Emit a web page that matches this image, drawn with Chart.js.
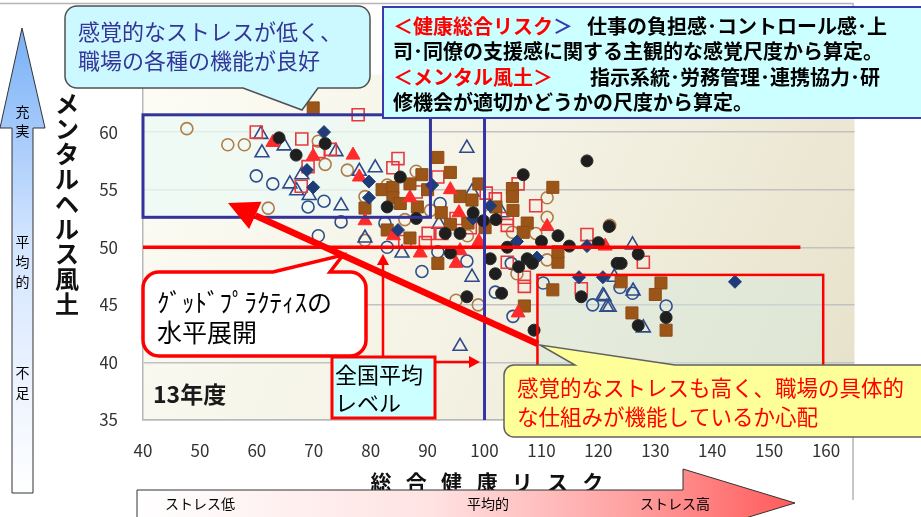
<!DOCTYPE html>
<html lang="ja">
<head>
<meta charset="utf-8">
<title>総合健康リスクとメンタルヘルス風土</title>
<script src="https://cdn.jsdelivr.net/npm/chart.js@4.4.1/dist/chart.umd.min.js"></script>
<style>
  html, body { margin: 0; padding: 0; background: #fff; }
  #wrap { width: 921px; height: 517px; }
</style>
</head>
<body>
<div id="wrap"><canvas id="riskChart" width="921" height="517"></canvas></div>
<script>
// axis ticks
const xTickValues = [40, 50, 60, 70, 80, 90, 100, 110, 120, 130, 140, 150, 160];
const yTickValues = [35, 40, 45, 50, 55, 60];

// national averages (reference lines)
const avgRisk = 100;
const avgClimate = 50;

// [総合健康リスク, メンタルヘルス風土] per workplace, grouped by marker
const blackDots = [[63.9,59.5],[66.9,58],[72,59],[85.2,56.1],[82.9,53.5],[106.8,56.3],[118,57.5],[99.8,52.3],[102,52.4],[121.9,51.8],[94,49.5],[93.1,51.2],[95.7,51.2],[96.9,45.7],[101,49],[101.9,47.7],[106,48.3],[107.5,49],[108.4,48.6],[112.9,51],[114.9,50.1],[120,50.4],[123.3,48.6],[117,45.7],[103,46],[108.7,42.8],[127,49.4],[124,48.6],[131.9,43.9],[127,43.2],[88,52.5],[98,53],[104,50],[110,50.5]];
const navyDiamonds = [[71.8,60],[68.8,56.7],[79.7,55.7],[69.9,55.2],[79.7,54.3],[90.8,55.4],[101,53.6],[84.8,51.5],[105.7,50.5],[109.2,49.1],[118,50.1],[116.6,47.4],[120.8,47.4],[144,47],[98,52.5]];
const redTriangles = [[62.8,59.1],[69.9,57.9],[76.9,58],[78,56.1],[79,52.3],[94,55],[86.9,54.3],[95.5,53],[111,51.8],[88.7,49.5],[95,48.6],[95.7,49.7],[121.2,50.1],[105.9,44.3],[99,50.5],[84,51]];
const brownSquares = [[69.9,62.1],[79,53.4],[91.8,57.8],[94,56.5],[89,56.3],[104.9,55.1],[112,55.2],[104.9,54.4],[95.7,54.4],[97.8,54.1],[86.9,55.5],[82,55],[83.9,55.2],[105,53.2],[92.4,53],[88.2,53.5],[83.9,54.3],[85.2,53.8],[82.9,51.5],[86.9,50.8],[97.1,52.1],[100.1,51.7],[107.5,52.1],[106.8,51.3],[91.8,48.6],[112.9,48.7],[112,46.3],[107,44.9],[112.9,49.6],[124,47],[131,46.9],[130,45.9],[125.9,44.3],[131.9,42.8],[90,55],[94,52],[99,55.5],[102,53.5]];
const redSquares = [[59.9,60],[67.9,59.4],[70.9,58.3],[72.9,58.5],[69,57],[67.8,55.3],[77.8,61.5],[84.8,57.7],[83.9,56.9],[91.8,56.1],[105.9,55.5],[100.3,54.7],[101.9,54.2],[109,53.6],[104,52.5],[90.1,51.2],[92.5,51.2],[89.6,50.4],[97.5,51.7],[104,51.9],[104,48.7],[107,47.4],[107,46.6],[118,51.1],[117,46.4],[127.9,48.7],[86,50.5],[95,52.5],[88,54.8]];
const navyTriangles = [[60.7,59.8],[60.9,58.2],[64.8,58.8],[73.9,58.3],[67.9,56.3],[78,56.6],[80.8,56.9],[65.8,55.5],[67,54.9],[69.2,54.5],[74.8,53.6],[96.9,58.6],[97.8,54.8],[85.5,49.5],[97.8,47.4],[95.7,41.4],[120.8,45.8],[121.5,44.8],[126,50.2],[122.8,47.4],[126.1,46.2],[121,45.7],[121.9,44.8],[127.9,43],[79,50.8],[92,52],[103,53]];
const navyCircles = [[59.9,56.2],[62.8,55.5],[69,53.5],[71.8,54],[74.8,52.2],[70.8,51],[82.5,52.1],[82.9,50],[89,47.9],[96.9,48.8],[91.8,49.6],[92.2,53.8],[104.7,48.6],[101.9,46.1],[105,44],[110.3,46.9],[119,45],[123.8,46.5],[126,46],[131.9,44.9]];
const tanCircles = [[47.7,60.3],[54.9,58.9],[57.8,58.9],[70.8,59.2],[72,57.2],[75.9,56.7],[62,53.4],[79,54.4],[88,56.6],[82.9,55.4],[111,54.3],[111,52.6],[104.9,51.3],[105.7,47.7],[111,48.9],[95,45.4],[98.9,45],[122,51.9],[86,52.4],[90.5,53.2],[79,50.6],[97,51],[101,52.8],[109,51.2]];

// highlighted zones (data units)
const goodZone = { x0: 40, x1: 90.5, y0: 52.6, y1: 61.5 };
const concernZone = { x0: 109.3, x1: 159.5, y0: 34, y1: 47.6 };

const JP = '"Noto Sans CJK JP", "Noto Sans", sans-serif';

const toPoints = arr => arr.map(([x, y]) => ({ x, y }));

function series(data, style, radius, fill, stroke, width) {
  return {
    data: toPoints(data),
    pointStyle: style,
    pointRadius: radius,
    pointHoverRadius: radius,
    backgroundColor: fill,
    borderColor: stroke,
    borderWidth: width
  };
}

function boxPath(ctx, x, y, w, h, r, side, b1, b2, tx, ty) {
  ctx.beginPath();
  ctx.moveTo(x + r, y);
  if (side === 'top') { ctx.lineTo(b1, y); ctx.lineTo(tx, ty); ctx.lineTo(b2, y); }
  ctx.lineTo(x + w - r, y);
  ctx.arcTo(x + w, y, x + w, y + r, r);
  ctx.lineTo(x + w, y + h - r);
  ctx.arcTo(x + w, y + h, x + w - r, y + h, r);
  if (side === 'bottom') { ctx.lineTo(b2, y + h); ctx.lineTo(tx, ty); ctx.lineTo(b1, y + h); }
  ctx.lineTo(x + r, y + h);
  ctx.arcTo(x, y + h, x, y + h - r, r);
  ctx.lineTo(x, y + r);
  ctx.arcTo(x, y, x + r, y, r);
  ctx.closePath();
}

function arrow(ctx, x1, y1, x2, y2, width, headLen, headHalf, color) {
  const a = Math.atan2(y2 - y1, x2 - x1);
  const c = Math.cos(a), s = Math.sin(a);
  const bx = x2 - headLen * c, by = y2 - headLen * s;
  ctx.strokeStyle = color;
  ctx.fillStyle = color;
  ctx.lineWidth = width;
  ctx.lineCap = 'butt';
  ctx.beginPath();
  ctx.moveTo(x1, y1);
  ctx.lineTo(bx, by);
  ctx.stroke();
  ctx.beginPath();
  ctx.moveTo(x2, y2);
  ctx.lineTo(bx - headHalf * s, by + headHalf * c);
  ctx.lineTo(bx + headHalf * s, by - headHalf * c);
  ctx.closePath();
  ctx.fill();
}

function runs(ctx, parts, x, y) {
  parts.forEach(([text, color]) => {
    ctx.fillStyle = color;
    ctx.fillText(text, x, y);
    x += ctx.measureText(text).width;
  });
}

function zoneRect(chart, z) {
  const xs = chart.scales.x, ys = chart.scales.y;
  const l = xs.getPixelForValue(z.x0), r = xs.getPixelForValue(z.x1);
  const t = ys.getPixelForValue(z.y1), b = ys.getPixelForValue(z.y0);
  return [l, t, r - l, b - t];
}

const decorations = {
  id: 'decorations',
  beforeDraw(chart) {
    const { ctx, chartArea: a } = chart;
    ctx.save();
    ctx.fillStyle = '#ffffff';
    ctx.fillRect(0, 0, chart.width, chart.height);
    // outer frame
    ctx.strokeStyle = '#b4b4b4';
    ctx.lineWidth = 1.5;
    ctx.beginPath();
    ctx.moveTo(0, 3.5);
    ctx.lineTo(853, 3.5);
    ctx.lineTo(853, 500);
    ctx.stroke();
    // plot background
    const g = ctx.createLinearGradient(a.left, a.top, a.right, a.bottom);
    g.addColorStop(0, '#fcfcf5');
    g.addColorStop(0.5, '#f4f2e4');
    g.addColorStop(1, '#e6e1c9');
    ctx.fillStyle = g;
    ctx.fillRect(a.left, a.top, a.right - a.left, a.bottom - a.top);
    ctx.restore();
  },
  beforeDatasetsDraw(chart) {
    const { ctx } = chart;
    ctx.save();
    ctx.fillStyle = 'rgba(236, 250, 244, 0.75)';
    ctx.fillRect(...zoneRect(chart, goodZone));
    ctx.fillStyle = 'rgba(214, 232, 222, 0.45)';
    ctx.fillRect(...zoneRect(chart, concernZone));
    ctx.restore();
  },
  afterDatasetsDraw(chart) {
    const { ctx, chartArea: a } = chart;
    const xs = chart.scales.x, ys = chart.scales.y;
    ctx.save();
    // national average lines
    const yAvg = ys.getPixelForValue(avgClimate);
    ctx.strokeStyle = '#ff0000';
    ctx.lineWidth = 3.5;
    ctx.beginPath();
    ctx.moveTo(a.left, yAvg);
    ctx.lineTo(xs.getPixelForValue(155.5), yAvg);
    ctx.stroke();
    const xAvg = xs.getPixelForValue(avgRisk);
    ctx.strokeStyle = '#3434a6';
    ctx.lineWidth = 3;
    ctx.beginPath();
    ctx.moveTo(xAvg, 116);
    ctx.lineTo(xAvg, a.bottom);
    ctx.stroke();
    // zone borders
    ctx.strokeStyle = '#333399';
    ctx.lineWidth = 3;
    ctx.strokeRect(...zoneRect(chart, goodZone));
    ctx.strokeStyle = '#ff0000';
    ctx.lineWidth = 2.5;
    ctx.strokeRect(...zoneRect(chart, concernZone));
    ctx.restore();
  },
  afterDraw(chart) {
    const { ctx } = chart;
    ctx.save();
    ctx.textBaseline = 'middle';

    // thick trend arrow
    arrow(ctx, 538, 344, 228, 203, 6.5, 30, 15, '#ff0000');

    // national average label with arrows
    arrow(ctx, 383, 357, 383, 254, 2.5, 11, 6, '#ff0000');
    arrow(ctx, 435, 362, 480, 362, 2.5, 11, 6, '#ff0000');
    ctx.fillStyle = '#ccffff';
    ctx.fillRect(332, 357, 103, 61);
    ctx.strokeStyle = '#ff0000';
    ctx.lineWidth = 3;
    ctx.strokeRect(332, 357, 103, 61);
    ctx.fillStyle = '#000';
    ctx.textAlign = 'left';
    ctx.font = '22px ' + JP;
    ctx.fillText('全国平均', 335, 375);
    ctx.fillText('レベル', 335, 403);

    // fiscal year tag
    ctx.font = 'bold 23px ' + JP;
    ctx.fillStyle = '#1a1a1a';
    ctx.fillText('13年度', 153, 394);

    // good practice callout
    boxPath(ctx, 143, 272, 223, 84, 16, 'top', 273, 330, 343, 255);
    ctx.fillStyle = '#ffffff';
    ctx.fill();
    ctx.strokeStyle = '#ff0000';
    ctx.lineWidth = 3.5;
    ctx.stroke();
    ctx.fillStyle = '#000';
    ctx.font = '25px ' + JP;
    ctx.fillText('ｸﾞｯﾄﾞﾌﾟﾗｸﾃｨｽの', 157, 302);
    ctx.fillText('水平展開', 157, 332);

    // low-stress callout
    boxPath(ctx, 65, 6, 305, 82, 12, 'bottom', 243, 318, 302, 110);
    ctx.fillStyle = '#ccf8ff';
    ctx.fill();
    ctx.strokeStyle = '#505050';
    ctx.lineWidth = 1.5;
    ctx.stroke();
    ctx.fillStyle = '#353598';
    ctx.font = '22px ' + JP;
    ctx.fillText('感覚的なストレスが低く、', 78, 32);
    ctx.fillText('職場の各種の機能が良好', 78, 61);

    // high-stress callout
    boxPath(ctx, 504, 365, 430, 72, 10, 'top', 575, 675, 540, 345);
    ctx.fillStyle = '#ffff99';
    ctx.fill();
    ctx.strokeStyle = '#606060';
    ctx.lineWidth = 1.5;
    ctx.stroke();
    ctx.fillStyle = '#ff0000';
    ctx.font = '21.5px ' + JP;
    ctx.fillText('感覚的なストレスも高く、職場の具体的', 517, 388);
    ctx.fillText('な仕組みが機能しているか心配', 517, 417);

    // definitions box
    ctx.fillStyle = '#ccffff';
    ctx.fillRect(383, 7, 560, 111);
    ctx.strokeStyle = '#3a3ab0';
    ctx.lineWidth = 2;
    ctx.strokeRect(383, 7, 560, 111);
    ctx.font = 'bold 20px ' + JP;
    runs(ctx, [['＜健康総合リスク', '#ff0000'], ['＞', '#3a3ab0']], 393, 26);
    runs(ctx, [['仕事の負担感･コントロール感･上', '#000']], 587, 26);
    runs(ctx, [['司･同僚の支援感に関する主観的な感覚尺度から算定。', '#000']], 393, 51);
    runs(ctx, [['＜メンタル風土＞', '#ff0000']], 393, 77);
    runs(ctx, [['指示系統･労務管理･連携協力･研', '#000']], 590, 77);
    runs(ctx, [['修機会が適切かどうかの尺度から算定。', '#000']], 393, 102);

    // vertical scale arrow (left)
    ctx.beginPath();
    ctx.moveTo(22, 28);
    ctx.lineTo(45, 128);
    ctx.lineTo(33, 128);
    ctx.lineTo(33, 493);
    ctx.lineTo(12, 493);
    ctx.lineTo(12, 128);
    ctx.lineTo(0, 128);
    ctx.closePath();
    const vg = ctx.createLinearGradient(0, 28, 0, 493);
    vg.addColorStop(0, '#78b0f6');
    vg.addColorStop(0.45, '#d2e4ff');
    vg.addColorStop(1, '#ffffff');
    ctx.fillStyle = vg;
    ctx.fill();
    ctx.strokeStyle = '#333';
    ctx.lineWidth = 1;
    ctx.stroke();
    ctx.fillStyle = '#000';
    ctx.font = '14px ' + JP;
    ctx.textAlign = 'center';
    [['充', 112], ['実', 131], ['平', 242], ['均', 262], ['的', 282], ['不', 373], ['足', 393]]
      .forEach(([ch, y]) => ctx.fillText(ch, 22.5, y));

    // y axis title, stacked
    ctx.font = 'bold 24px ' + JP;
    ctx.fillStyle = '#111';
    Array.from('メンタルヘルス風土').forEach((ch, i) => ctx.fillText(ch, 67, 104 + i * 25));

    // x axis title
    ctx.font = 'bold 21px ' + JP;
    Array.from('総合健康リスク').forEach((ch, i) => ctx.fillText(ch, 381 + i * 35.3, 482));

    // horizontal stress arrow (bottom)
    ctx.beginPath();
    ctx.moveTo(137, 490);
    ctx.lineTo(683, 490);
    ctx.lineTo(683, 469);
    ctx.lineTo(795, 503);
    ctx.lineTo(683, 537);
    ctx.lineTo(683, 520);
    ctx.lineTo(137, 520);
    ctx.closePath();
    const hg = ctx.createLinearGradient(137, 0, 795, 0);
    hg.addColorStop(0, '#ffffff');
    hg.addColorStop(0.45, '#ffe2e2');
    hg.addColorStop(0.75, '#ffa0a0');
    hg.addColorStop(1, '#ff5a5a');
    ctx.fillStyle = hg;
    ctx.fill();
    ctx.strokeStyle = '#333';
    ctx.lineWidth = 1;
    ctx.stroke();
    ctx.fillStyle = '#000';
    ctx.font = '14px ' + JP;
    ctx.textAlign = 'left';
    ctx.fillText('ストレス低', 165, 504);
    ctx.fillText('平均的', 467, 504);
    ctx.fillText('ストレス高', 640, 504);

    ctx.restore();
  }
};

new Chart(document.getElementById('riskChart'), {
  type: 'scatter',
  data: {
    datasets: [
      series(blackDots, 'circle', 6, '#1e1e1e', '#2a2a2a', 1),
      series(navyDiamonds, 'rectRot', 6.5, '#1f3c78', '#1f3c78', 1),
      series(redTriangles, 'triangle', 8, '#ff2a2a', '#ff2a2a', 1),
      series(brownSquares, 'rect', 8.5, '#9c5518', '#8e4c12', 1),
      series(redSquares, 'rect', 8.5, 'rgba(0,0,0,0)', '#e8383d', 1.6),
      series(navyTriangles, 'triangle', 8, 'rgba(0,0,0,0)', '#2f4a8a', 1.6),
      series(navyCircles, 'circle', 6, 'rgba(0,0,0,0)', '#2e4e8e', 1.6),
      series(tanCircles, 'circle', 6, 'rgba(0,0,0,0)', '#b07d4a', 1.6)
    ]
  },
  options: {
    responsive: false,
    animation: false,
    devicePixelRatio: 1,
    layout: { padding: { left: 100, right: 66.5, top: 74.5, bottom: 57 } },
    plugins: {
      legend: { display: false },
      tooltip: { enabled: false }
    },
    scales: {
      x: {
        type: 'linear',
        min: 40,
        max: 165,
        afterBuildTicks: s => { s.ticks = xTickValues.map(v => ({ value: v })); },
        afterFit: s => { s.height = 40; },
        grid: { display: false, drawTicks: false },
        border: { display: true, color: '#b8b8b8', width: 1.5 },
        ticks: { padding: 20, color: '#333', font: { family: JP, size: 17 } }
      },
      y: {
        type: 'linear',
        min: 35,
        max: 65,
        afterBuildTicks: s => { s.ticks = yTickValues.map(v => ({ value: v })); },
        afterFit: s => { s.width = 43; },
        grid: { color: '#c2c2c2', lineWidth: 1.5, drawTicks: false },
        border: { display: true, color: '#b8b8b8', width: 1.5 },
        ticks: { padding: 25, color: '#333', font: { family: JP, size: 17 } }
      }
    }
  },
  plugins: [decorations]
});
</script>
</body>
</html>
